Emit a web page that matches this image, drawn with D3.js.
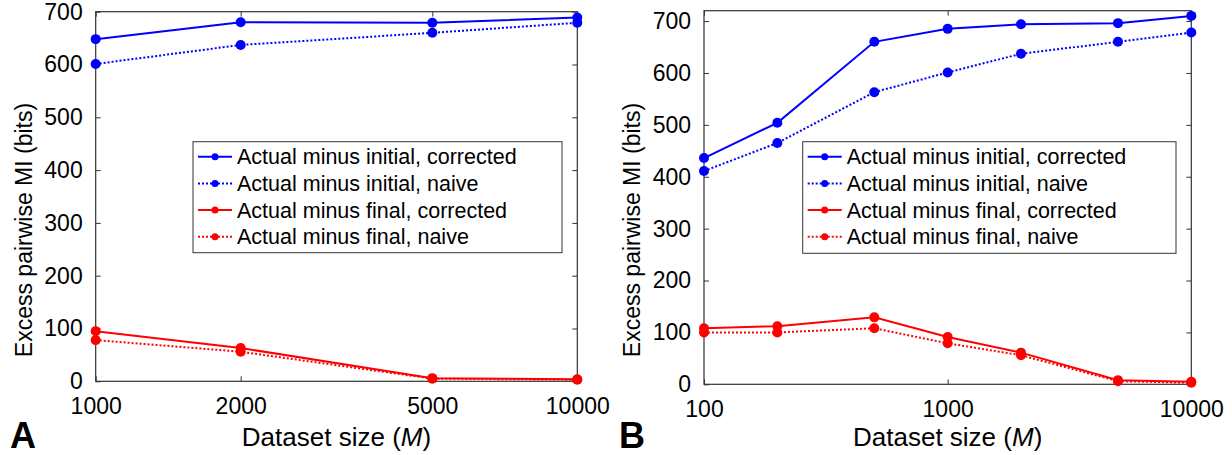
<!DOCTYPE html>
<html>
<head>
<meta charset="utf-8">
<script src="https://cdn.jsdelivr.net/npm/d3@7"></script>
<style>
  body { margin: 0; background: #fff; }
  text { font-family: "Liberation Sans", Arial, sans-serif; fill: #000; }
</style>
</head>
<body>
<div id="chart"></div>
<script>
// panel A data
const sizesA = [1000, 2000, 5000, 10000];
const initCorrA = [648, 680, 679, 689];
const initNaiveA = [601, 637, 660, 679];
const finalCorrA = [95, 63, 6, 4];
const finalNaiveA = [78, 56, 5, 3];

// panel B data
const sizesB = [100, 200, 500, 1000, 2000, 5000, 10000];
const initCorrB = [436, 504, 660, 685, 694, 696, 710];
const initNaiveB = [411, 465, 563, 601, 637, 660, 678];
const finalCorrB = [108, 112, 129, 91, 61, 8, 5];
const finalNaiveB = [100, 100, 108, 79, 56, 6, 3];

const xTicksA = [1000, 2000, 5000, 10000];
const xTicksB = [100, 1000, 10000];
const yTicks = [0, 100, 200, 300, 400, 500, 600, 700];

const seriesNames = [
    "Actual minus initial, corrected",
    "Actual minus initial, naive",
    "Actual minus final, corrected",
    "Actual minus final, naive"
];
const seriesColors = ["#0000ff", "#0000ff", "#ff0000", "#ff0000"];
const seriesDotted = [false, true, false, true];

const svg = d3.select("#chart")
    .append("svg")
    .attr("width", 1232)
    .attr("height", 455);

svg.append("rect").attr("width", 1232).attr("height", 455).attr("fill", "#fff");

const panels = [
    {
        letter: "A", x0: 95.7, x1: 577.3, y0: 11.7, y1: 381.3, yMax: 700,
        sizes: sizesA, xTicks: xTicksA,
        series: [initCorrA, initNaiveA, finalCorrA, finalNaiveA],
        legend: { x: 193, y: 141.7, w: 369, h: 111 },
        yTitleX: 24, letterX: 10
    },
    {
        letter: "B", x0: 704, x1: 1191.3, y0: 10.7, y1: 384.3, yMax: 720,
        sizes: sizesB, xTicks: xTicksB,
        series: [initCorrB, initNaiveB, finalCorrB, finalNaiveB],
        legend: { x: 802.7, y: 141.7, w: 373.3, h: 111.6 },
        yTitleX: 632, letterX: 619
    }
];

panels.forEach(p => {
    const g = svg.append("g");
    const xScale = d3.scaleLog()
        .domain([p.sizes[0], p.sizes[p.sizes.length - 1]])
        .range([p.x0, p.x1]);
    const yScale = d3.scaleLinear()
        .domain([0, p.yMax])
        .range([p.y1, p.y0]);

    const tickLen = 5;

    // bottom axis + labels
    g.append("g")
        .attr("transform", `translate(0,${p.y1})`)
        .call(d3.axisBottom(xScale).tickValues(p.xTicks).tickSize(-tickLen).tickPadding(16).tickFormat(d3.format("d")))
        .call(a => a.select(".domain").remove())
        .selectAll("text")
        .style("font-size", "23px")
        .style("font-family", "Liberation Sans, Arial, sans-serif")
        .attr("fill", "#000");

    // top ticks
    g.append("g")
        .attr("transform", `translate(0,${p.y0})`)
        .call(d3.axisTop(xScale).tickValues(p.xTicks).tickSize(-tickLen).tickFormat(""))
        .call(a => a.select(".domain").remove());

    // left axis + labels
    g.append("g")
        .attr("transform", `translate(${p.x0},0)`)
        .call(d3.axisLeft(yScale).tickValues(yTicks).tickSize(-tickLen).tickPadding(13))
        .call(a => a.select(".domain").remove())
        .selectAll("text")
        .style("font-size", "23px")
        .style("font-family", "Liberation Sans, Arial, sans-serif")
        .attr("fill", "#000");

    // right ticks
    g.append("g")
        .attr("transform", `translate(${p.x1},0)`)
        .call(d3.axisRight(yScale).tickValues(yTicks).tickSize(-tickLen).tickFormat(""))
        .call(a => a.select(".domain").remove());

    g.selectAll(".tick line").attr("stroke", "#333");

    // box
    g.append("rect")
        .attr("x", p.x0).attr("y", p.y0)
        .attr("width", p.x1 - p.x0).attr("height", p.y1 - p.y0)
        .attr("fill", "none").attr("stroke", "#333").attr("stroke-width", 1.2);

    // series
    p.series.forEach((vals, i) => {
        const pts = p.sizes.map((s, j) => ({ x: s, y: vals[j] }));
        const line = d3.line().x(d => xScale(d.x)).y(d => yScale(d.y));
        g.append("path")
            .datum(pts)
            .attr("d", line)
            .attr("fill", "none")
            .attr("stroke", seriesColors[i])
            .attr("stroke-width", 2)
            .attr("stroke-dasharray", seriesDotted[i] ? "2,2" : null);
        g.selectAll(null)
            .data(pts)
            .enter()
            .append("circle")
            .attr("cx", d => xScale(d.x))
            .attr("cy", d => yScale(d.y))
            .attr("r", 5)
            .attr("fill", seriesColors[i]);
    });

    // legend
    const lg = g.append("g");
    lg.append("rect")
        .attr("x", p.legend.x).attr("y", p.legend.y)
        .attr("width", p.legend.w).attr("height", p.legend.h)
        .attr("fill", "#fff").attr("stroke", "#333").attr("stroke-width", 1);
    seriesNames.forEach((name, i) => {
        const cy = p.legend.y + 15 + i * 26.7;
        const lx = p.legend.x + 5;
        lg.append("line")
            .attr("x1", lx).attr("x2", lx + 34)
            .attr("y1", cy).attr("y2", cy)
            .attr("stroke", seriesColors[i])
            .attr("stroke-width", 2)
            .attr("stroke-dasharray", seriesDotted[i] ? "2,2" : null);
        lg.append("circle")
            .attr("cx", lx + 17).attr("cy", cy).attr("r", 3.5)
            .attr("fill", seriesColors[i]);
        lg.append("text")
            .attr("x", lx + 39).attr("y", cy)
            .attr("dy", "0.35em")
            .style("font-size", "21.5px")
            .text(name);
    });

    // axis titles
    const yMid = 230;
    g.append("text")
        .attr("transform", `translate(${p.yTitleX},${yMid}) rotate(-90)`)
        .attr("text-anchor", "middle")
        .attr("dy", "0.35em")
        .style("font-size", "23px")
        .text("Excess pairwise MI (bits)");

    const xt = g.append("text")
        .attr("x", (p.x0 + p.x1) / 2)
        .attr("y", 446)
        .attr("text-anchor", "middle")
        .style("font-size", "26px");
    xt.append("tspan").text("Dataset size (");
    xt.append("tspan").style("font-style", "italic").text("M");
    xt.append("tspan").text(")");

    // panel letter
    g.append("text")
        .attr("x", p.letterX)
        .attr("y", 448)
        .style("font-size", "36px")
        .style("font-weight", "bold")
        .text(p.letter);
});
</script>
</body>
</html>
